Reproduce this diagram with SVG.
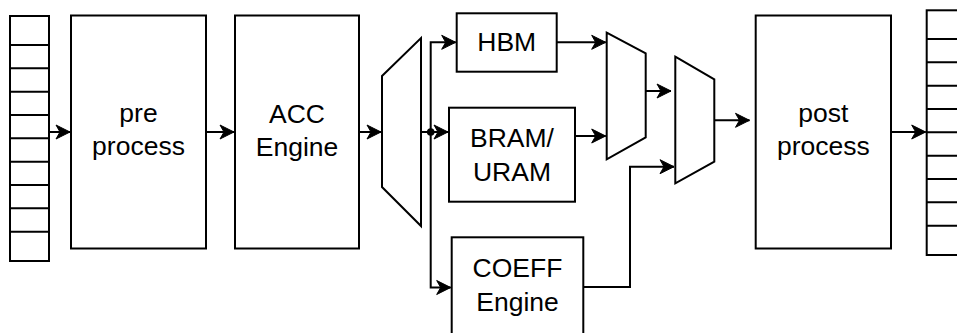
<svg xmlns="http://www.w3.org/2000/svg" width="957" height="333" viewBox="0 0 957 333">
  <style>
    .box { fill: #ffffff; stroke: #000000; stroke-width: 2; }
    .cell { fill: none; stroke: #000000; stroke-width: 2; }
    .wire { fill: none; stroke: #000000; stroke-width: 2; }
    .lbl { font-family: "Liberation Sans", Arial, Helvetica, sans-serif; font-size: 26.5px; fill: #000000; text-anchor: middle; }
  </style>
  <defs>
    <marker id="arrow" viewBox="-16 -9 18 18" refX="0" refY="0" markerWidth="18" markerHeight="18" markerUnits="userSpaceOnUse" orient="auto">
      <path d="M0,0 L-14,-7 L-10,0 L-14,7 Z" fill="#000000" stroke="#000000" stroke-width="1" stroke-linejoin="miter"/>
    </marker>
  </defs>

  <rect width="957" height="333" fill="#ffffff"/>

  <!-- input buffer -->
  <g id="input-buffer">
    <rect class="box" x="10" y="16" width="39" height="245"/>
    <path class="cell" d="M10,45H49 M10,68.3H49 M10,91.7H49 M10,115H49 M10,138.3H49 M10,161.7H49 M10,185H49 M10,208.3H49 M10,231.7H49"/>
  </g>

  <g id="pre-process">
    <rect class="box" x="71" y="15.5" width="135" height="233"/>
    <text class="lbl" x="138.5" y="122">pre</text>
    <text class="lbl" x="138.5" y="155">process</text>
  </g>

  <g id="acc-engine">
    <rect class="box" x="235" y="15.5" width="124" height="233"/>
    <text class="lbl" x="297" y="123">ACC</text>
    <text class="lbl" x="297" y="156">Engine</text>
  </g>

  <g id="demux">
    <path class="box" d="M382,76 L421,38 L421,226 L382,187 Z"/>
  </g>

  <g id="hbm">
    <rect class="box" x="456.7" y="13.3" width="100" height="58.4"/>
    <text class="lbl" x="506.7" y="51">HBM</text>
  </g>

  <g id="bram-uram">
    <rect class="box" x="449" y="107.7" width="126" height="94"/>
    <text class="lbl" x="512" y="146.7">BRAM/</text>
    <text class="lbl" x="512" y="181.2">URAM</text>
  </g>

  <g id="coeff-engine">
    <rect class="box" x="451.7" y="237.3" width="131.6" height="100"/>
    <text class="lbl" x="517.5" y="276.7">COEFF</text>
    <text class="lbl" x="517.5" y="310.7">Engine</text>
  </g>

  <g id="mux-1">
    <path class="box" d="M606.7,32.7 L645.7,53.3 L645.7,137.3 L606.7,159.3 Z"/>
  </g>

  <g id="mux-2">
    <path class="box" d="M675.3,56.7 L714.3,79.3 L714.3,161.7 L675.3,183.3 Z"/>
  </g>

  <g id="post-process">
    <rect class="box" x="755.7" y="15.5" width="135.3" height="233"/>
    <text class="lbl" x="823.3" y="122">post</text>
    <text class="lbl" x="823.3" y="155">process</text>
  </g>

  <!-- output buffer -->
  <g id="output-buffer">
    <rect class="box" x="926.7" y="10.3" width="40" height="244.7"/>
    <path class="cell" d="M926.7,39H960 M926.7,62.3H960 M926.7,85.7H960 M926.7,109H960 M926.7,132.3H960 M926.7,155.7H960 M926.7,179H960 M926.7,202.3H960 M926.7,225.7H960"/>
  </g>

  <g id="connectors">
    <path class="wire" d="M49,132H70" marker-end="url(#arrow)"/>
    <path class="wire" d="M206,132H234" marker-end="url(#arrow)"/>
    <path class="wire" d="M359,132H381" marker-end="url(#arrow)"/>
    <path class="wire" d="M421,132H448" marker-end="url(#arrow)"/>
    <path class="wire" d="M430.7,132V42.3H455.7" marker-end="url(#arrow)"/>
    <path class="wire" d="M430.7,132V287.5H450.7" marker-end="url(#arrow)"/>
    <circle cx="430.7" cy="132" r="3.8" fill="#000000"/>
    <path class="wire" d="M556.7,42.3H605.7" marker-end="url(#arrow)"/>
    <path class="wire" d="M575,136H605.7" marker-end="url(#arrow)"/>
    <path class="wire" d="M645.7,91H671" marker-end="url(#arrow)"/>
    <path class="wire" d="M583.3,287H630V166.7H674" marker-end="url(#arrow)"/>
    <path class="wire" d="M714.3,120.3H749.5" marker-end="url(#arrow)"/>
    <path class="wire" d="M891,132H925.7" marker-end="url(#arrow)"/>
  </g>
</svg>
